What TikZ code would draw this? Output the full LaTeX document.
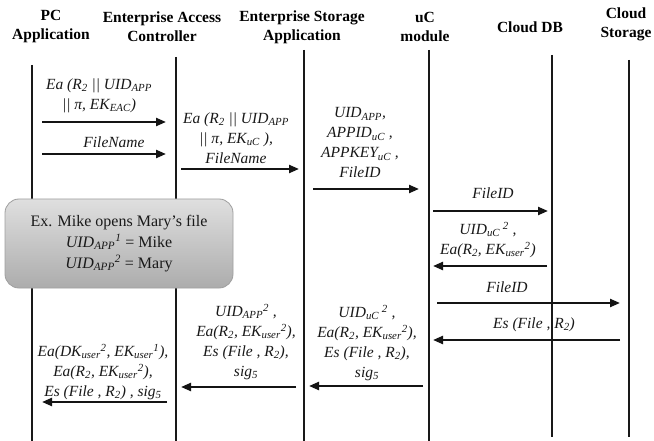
\documentclass[tikz,border=0pt]{standalone}
\usepackage{fontspec}
\setmainfont{Liberation Serif}
\usetikzlibrary{arrows.meta}
\newcommand\sbx[1]{\textsubscript{#1}}
\newcommand\spx[1]{\textsuperscript{#1}}
\begin{document}
\begin{tikzpicture}[x=1pt,y=-1pt,
  hdr/.style={font=\fontsize{15.5}{19}\selectfont\bfseries, align=center, inner sep=0pt, text=black},
  lbl/.style={font=\fontsize{15.5}{20}\selectfont\itshape, align=center, inner sep=0pt, text=black!90},
  life/.style={line width=2pt, draw=black!90},
  msg/.style={line width=2.2pt, draw=black!92, -{Triangle[length=10pt,width=8pt]}},
  note/.style={draw=gray!75, line width=0.8pt, rounded corners=14pt, top color=gray!25, bottom color=gray!65,
     minimum width=228pt, minimum height=89pt, align=center, inner sep=0pt,
     font=\fontsize{16}{21}\selectfont, text=black!90}]
\useasboundingbox (0,0) rectangle (654,441);
\fill[white] (0,0) rectangle (654,441);
% headers
\node[hdr] (hPC) at (51,27) {PC\\Application};
\node[hdr] (hEAC) at (162,27) {Enterprise Access\\Controller};
\node[hdr] (hESA) at (302,27) {Enterprise Storage\\Application};
\node[hdr] (hUC) at (425,27) {uC\\module};
\node[hdr] (hDB) at (530,27) {Cloud DB};
\node[hdr] (hCS) at (626,24) {Cloud\\Storage};
% lifelines
\coordinate (pcT) at (32,65);  \coordinate (pcB) at (32,441);
\coordinate (eacT) at (176,57); \coordinate (eacB) at (176,441);
\coordinate (esaT) at (304,50); \coordinate (esaB) at (304,441);
\coordinate (ucT) at (429,50);  \coordinate (ucB) at (429,441);
\coordinate (dbT) at (552,55);  \coordinate (dbB) at (552,437);
\coordinate (csT) at (629,60);  \coordinate (csB) at (629,437);
\foreach \l in {pc,eac,esa,uc,db,cs} \draw[life] (\l T) -- (\l B);
% message end points
\coordinate (m1s) at (42,122);  \coordinate (m1e) at (166,122);
\coordinate (m2s) at (42,154);  \coordinate (m2e) at (166,154);
\coordinate (m3s) at (181,169); \coordinate (m3e) at (299,169);
\coordinate (m4s) at (313,189); \coordinate (m4e) at (419,189);
\coordinate (m5s) at (433,211); \coordinate (m5e) at (548,211);
\coordinate (m6s) at (547,266); \coordinate (m6e) at (433,266);
\coordinate (m7s) at (437,303); \coordinate (m7e) at (620,303);
\coordinate (m8s) at (620,340); \coordinate (m8e) at (433,340);
\coordinate (m9s) at (423,386); \coordinate (m9e) at (309,386);
\coordinate (m10s) at (296,387); \coordinate (m10e) at (181,387);
\coordinate (m11s) at (167,402); \coordinate (m11e) at (42,402);
\foreach \i in {1,...,11} \draw[msg] (m\i s) -- (m\i e);
% labels
\node[lbl] (l1) at (99,96) {Ea (R\sbx{2} || UID\sbx{APP}\\|| π, EK\sbx{EAC})};
\node[lbl] (l2) at (114,142) {FileName};
\node[lbl] (l3) at (236,138) {Ea (R\sbx{2} || UID\sbx{APP}\\|| π, EK\sbx{uC} ),\\FileName};
\node[lbl] (l4) at (360,143) {UID\sbx{APP},\\APPID\sbx{uC} ,\\APPKEY\sbx{uC} ,\\FileID};
\node[lbl] (l5) at (493,193) {FileID};
\node[lbl] (l6) at (488,240) {UID\sbx{uC}\spx{ 2} ,\\Ea(R\sbx{2}, EK\sbx{user}\spx{2})};
\node[lbl] (l7) at (507,287) {FileID};
\node[lbl] (l8) at (534,325) {Es (File , R\sbx{2})};
\node[lbl] (l9) at (367,343) {UID\sbx{uC}\spx{ 2} ,\\Ea(R\sbx{2}, EK\sbx{user}\spx{2}),\\Es (File , R\sbx{2}),\\sig\sbx{5}};
\node[lbl] (l10) at (246,342) {UID\sbx{APP}\spx{2} ,\\Ea(R\sbx{2}, EK\sbx{user}\spx{2}),\\Es (File , R\sbx{2}),\\sig\sbx{5}};
\node[lbl] (l11) at (103,372) {Ea(DK\sbx{user}\spx{2}, EK\sbx{user}\spx{1}),\\Ea(R\sbx{2}, EK\sbx{user}\spx{2}),\\Es (File , R\sbx{2}) , sig\sbx{5}};
% note box
\node[note] (box) at (119,243.5) {Ex. Mike opens Mary's file\\\textit{UID\sbx{APP}\spx{1}} = Mike\\\textit{UID\sbx{APP}\spx{2}} = Mary};
\end{tikzpicture}
\end{document}
